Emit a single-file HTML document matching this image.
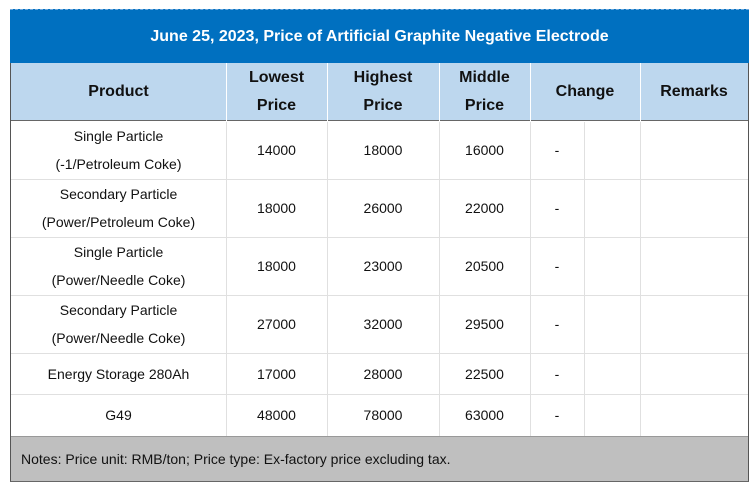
<!DOCTYPE html>
<html><head><meta charset="utf-8"><style>
body{margin:0;width:756px;height:487px;background:#fff;position:relative;font-family:"Liberation Sans",sans-serif;overflow:hidden}
div{position:absolute;box-sizing:border-box}
.c{display:flex;align-items:center;justify-content:center;text-align:center;font-size:14px;color:#111;line-height:28px}
.h{font-weight:bold;font-size:16px;line-height:28px}
.vl{width:1px;background:#e0e0e0}
.hl{height:1px;background:#e0e0e0}
</style></head><body>
<div style="left:10px;top:9px;width:739px;height:473px;border-left:1px solid #555;border-right:1px solid #555;border-bottom:2px solid #666"></div>
<div class="c" style="left:10px;top:9px;width:739px;height:54px;background:#0070c0;color:#fff;font-weight:bold;font-size:16px;border-top:1px dashed #6fa8dc">June 25, 2023, Price of Artificial Graphite Negative Electrode</div>
<div style="left:11px;top:63px;width:737px;height:58px;background:#bdd7ee;border-bottom:1px solid #666"></div>
<div id="grid"></div>
<div style="left:11px;top:436px;width:737px;height:45px;background:#bfbfbf;border-top:1px solid #999;font-size:14px;line-height:45px;padding-left:10px;color:#111">Notes: Price unit: RMB/ton; Price type: Ex-factory price excluding tax.</div>
<script>
const headers=["Product","Lowest<br>Price","Highest<br>Price","Middle<br>Price","Change","Remarks"];
const hx=[11,226,327,439,530,640,748];
const products=["Single Particle<br>(-1/Petroleum Coke)","Secondary Particle<br>(Power/Petroleum Coke)","Single Particle<br>(Power/Needle Coke)","Secondary Particle<br>(Power/Needle Coke)","Energy Storage 280Ah","G49"];
const lowest=[14000,18000,18000,27000,17000,48000];
const highest=[18000,26000,23000,32000,28000,78000];
const middle=[16000,22000,20500,29500,22500,63000];
const changes=["-","-","-","-","-","-"];
const ry=[121,179,237,295,353,394,436];
const cx=[11,226,327,439,530,584,640,748];
const b=document.body;
function cell(x,y,w,h,html,cls,name){const d=document.createElement('div');d.className=cls;d.style.cssText=`left:${x}px;top:${y}px;width:${w}px;height:${h}px`;d.innerHTML=html;


b.appendChild(d);}
headers.forEach((t,i)=>cell(hx[i],63,hx[i+1]-hx[i],58,t,'c h','header-'+i));
for(let i=1;i<hx.length-1;i++){const l=document.createElement('div');l.className='vl';l.style.cssText=`left:${hx[i]}px;top:63px;height:58px;background:#fff`;


b.appendChild(l);}
for(let r=0;r<products.length;r++){
const y=ry[r],h=ry[r+1]-ry[r];
cell(cx[0],y,cx[1]-cx[0],h,products[r],'c','product-'+r);
cell(cx[1],y,cx[2]-cx[1],h,lowest[r],'c','lowest-'+r);
cell(cx[2],y,cx[3]-cx[2],h,highest[r],'c','highest-'+r);
cell(cx[3],y,cx[4]-cx[3],h,middle[r],'c','middle-'+r);
cell(cx[4],y,cx[5]-cx[4],h,changes[r],'c','change-'+r);
if(r>0){const l=document.createElement('div');l.className='hl';l.style.cssText=`left:11px;top:${y}px;width:737px`;


b.appendChild(l);}
}
for(let i=1;i<cx.length-1;i++){const l=document.createElement('div');l.className='vl';l.style.cssText=`left:${cx[i]}px;top:122px;height:314px`;


b.appendChild(l);}
</script>
</body></html>
